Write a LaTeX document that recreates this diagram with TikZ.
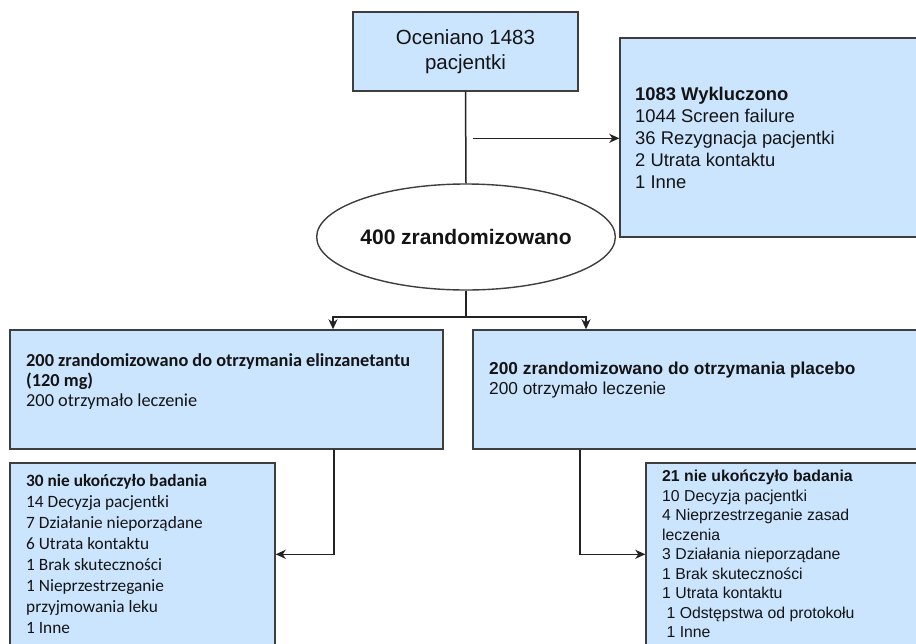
\documentclass[tikz,border=0pt]{standalone}
\usepackage{fontspec}
\setmainfont{Liberation Sans}
\newfontfamily\calfont{Carlito}
\usetikzlibrary{arrows.meta,shapes.geometric}
\definecolor{boxfill}{RGB}{204,229,255}
\definecolor{boxline}{RGB}{62,62,62}
\definecolor{connc}{RGB}{35,35,35}
\definecolor{txtc}{RGB}{20,20,20}
\begin{document}
\begin{tikzpicture}[x=1pt,y=-1pt,
  box/.style={draw=boxline, fill=boxfill, line width=1.4pt, rectangle, inner sep=0pt},
  txt/.style={anchor=north west, align=left, inner sep=0pt, text=txtc},
  conn/.style={draw=connc, line width=1.5pt},
  arr/.style={conn, -{Stealth[length=10pt,width=9pt,inset=3pt]}}]
\useasboundingbox (0,0) rectangle (916,643);
\fill[white] (0,0) rectangle (916,643);
\clip (0,0) rectangle (916,643);

% boxes
\node[box, minimum width=225pt, minimum height=79pt, align=center, text=txtc,
      font=\fontsize{20.5}{25}\selectfont] (scr) at (465.5,51.5) {Oceniano 1483\\pacjentki};
\node[box, minimum width=315pt, minimum height=199pt] (excl) at (777.5,137.5) {};
\node[draw=boxline, fill=white, line width=1.4pt, ellipse, inner sep=0pt,
      minimum width=240pt, minimum height=106pt, text=txtc,
      font=\fontsize{21}{24}\selectfont\bfseries] (rand) at (466,237) {400 zrandomizowano};
\node[box, minimum width=433pt, minimum height=119pt] (armL) at (226.5,389.5) {};
\node[box, minimum width=462pt, minimum height=119pt] (armR) at (704,389.5) {};
\node[box, minimum width=265pt, minimum height=197pt] (outL) at (142.5,561.5) {};
\node[box, minimum width=289pt, minimum height=197pt] (outR) at (790.5,561.5) {};

% texts
\node[txt, font=\fontsize{18.4}{22}\selectfont] (exclt) at (635,84.7)
  {\rule{0pt}{16pt}\textbf{1083 Wykluczono}\\1044 Screen failure\\36 Rezygnacja pacjentki\\2 Utrata kontaktu\\1 Inne};
\node[txt, font=\calfont\fontsize{18.3}{20}\selectfont] (armLt) at (26,350.7)
  {\rule{0pt}{16pt}\textbf{200 zrandomizowano do otrzymania elinzanetantu}\\\textbf{(120 mg)}\\200 otrzymało leczenie};
\node[txt, font=\fontsize{17.3}{20}\selectfont] (armRt) at (489,358)
  {\rule{0pt}{16pt}\textbf{200 zrandomizowano do otrzymania placebo}\\200 otrzymało leczenie};
\node[txt, font=\calfont\fontsize{17.3}{21}\selectfont] (outLt) at (26,470.7)
  {\rule{0pt}{16pt}\textbf{30 nie ukończyło badania}\\14 Decyzja pacjentki\\7 Działanie nieporządane\\6 Utrata kontaktu\\1 Brak skuteczności\\1 Nieprzestrzeganie\\przyjmowania leku\\1 Inne};
\node[txt, font=\fontsize{15.8}{19.5}\selectfont] (outRt) at (662,466.7)
  {\rule{0pt}{15pt}\textbf{21 nie ukończyło badania}\\10 Decyzja pacjentki\\4 Nieprzestrzeganie zasad\\leczenia\\3 Działania nieporządane\\1 Brak skuteczności\\1 Utrata kontaktu\\\hspace*{4.4pt}1 Odstępstwa od protokołu\\\hspace*{4.4pt}1 Inne};

% connectors
\draw[conn] (scr.south) -- (rand.north);
\coordinate (exA) at (473,138.3);
\draw[arr] (exA) -- (exA -| excl.west);
\coordinate (splitL) at (333,317);
\coordinate (splitR) at (586,317);
\draw[arr] (rand.south) |- (splitL) -- (splitL |- armL.north);
\draw[arr] (rand.south) |- (splitR) -- (splitR |- armR.north);
\coordinate (dl) at (334,554.3);
\coordinate (dr) at (580,554.3);
\draw[arr] (armL.south -| dl) -- (dl) -- (dl -| outL.east);
\draw[arr] (armR.south -| dr) -- (dr) -- (dr -| outR.west);
\end{tikzpicture}
\end{document}
